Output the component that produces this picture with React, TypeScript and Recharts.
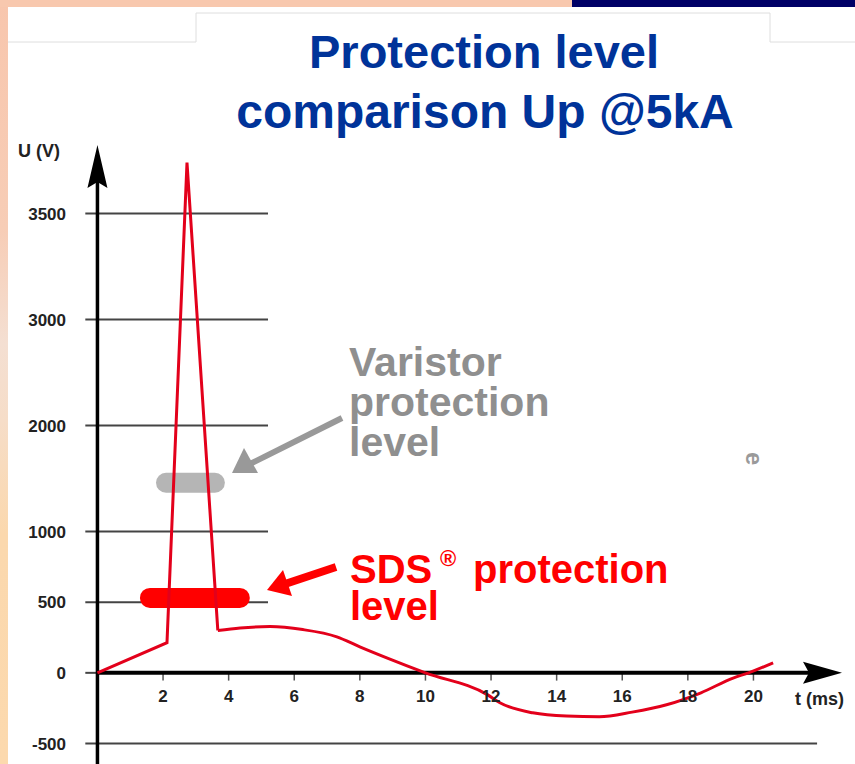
import { LineChart, Line, XAxis, YAxis, ReferenceLine, ReferenceDot } from "recharts";

// y axis of the original is not linear: each gridline value sits on a "slot"
const yTickVolts = [-500, 0, 500, 1000, 2000, 3000, 3500];
const yTickSlots = [-1, 0, 1, 2, 3.5, 5, 6.5];
const xTicks = [2, 4, 6, 8, 10, 12, 14, 16, 18, 20];

// surge: ramp, spike, drop
const spikeT = [0, 2.12, 2.73, 3.67];
const spikeU = [0, 213, 3740, 300];

// mains wave after the surge
const waveT = [3.67, 4.35, 5.26, 6.26, 7.3, 8.0, 8.82, 10.0, 11.9, 12.27, 13.27, 14.3, 15.3, 16.3, 17.35, 18.4, 19.4, 19.85, 20.6];
const waveU = [300, 318, 327, 306, 255, 184, 106, 0, -156, -212, -283, -306, -311, -278, -226, -141, -35, 0, 71];

// protection levels (V) and the time span of the marker bars (ms)
const varistorLevel = 1460;
const varistorSpan = [2.09, 3.58];
const sdsLevel = 530;
const sdsSpan = [1.6, 4.34];

const FONT = "'Liberation Sans', Arial, Helvetica, sans-serif";

function toSlot(v: number): number {
  let i = 0;
  while (i < yTickVolts.length - 2 && v > yTickVolts[i + 1]) i++;
  const v0 = yTickVolts[i];
  const v1 = yTickVolts[i + 1];
  const s0 = yTickSlots[i];
  const s1 = yTickSlots[i + 1];
  return s0 + ((v - v0) / (v1 - v0)) * (s1 - s0);
}

const spikeData = spikeT.map((t, i) => ({ t, u: toSlot(spikeU[i]) }));
const waveData = waveT.map((t, i) => ({ t, u: toSlot(waveU[i]) }));

function fmtSlot(s: number): string {
  const i = yTickSlots.indexOf(s);
  return i >= 0 ? String(yTickVolts[i]) : "";
}

const X_MIN = -0.41;
const X_MAX = 22.7;
const Y_MIN = -1.29;
const Y_MAX = 7.54;

function UpArrow(p: any) {
  const { cx, cy } = p;
  return (
    <polygon
      points={`${cx},${cy} ${cx + 10},${cy + 43} ${cx},${cy + 37} ${cx - 10},${cy + 43}`}
      fill="#000"
    />
  );
}

function RightArrow(p: any) {
  const { cx, cy } = p;
  return (
    <polygon
      points={`${cx},${cy} ${cx - 39},${cy - 11} ${cx - 33},${cy} ${cx - 39},${cy + 11}`}
      fill="#000"
    />
  );
}

export default function App() {
  return (
    <div
      style={{
        position: "absolute",
        left: 0,
        top: 0,
        width: 855,
        height: 764,
        overflow: "hidden",
        background: "#fff",
        fontFamily: FONT,
      }}
    >
      {/* slide background edges */}
      <div
        style={{
          position: "absolute",
          left: 0,
          top: 0,
          width: 8,
          height: 764,
          background: "linear-gradient(#f8c6ad 0%, #f7cdb6 30%, #f4dfd2 45%, #f6ddc8 55%, #fbd8ad 70%, #fcd9ad 100%)",
        }}
      />
      <div style={{ position: "absolute", left: 0, top: 0, width: 572, height: 7, background: "#f8c8ae" }} />
      <div style={{ position: "absolute", left: 572, top: 0, width: 283, height: 7, background: "#000066" }} />

      <div style={{ position: "absolute", left: 0, top: 0 }}>
        <LineChart width={855} height={764} margin={{ top: 140, right: 13, bottom: 0, left: 0 }}>
          <XAxis type="number" dataKey="t" domain={[X_MIN, X_MAX]} allowDataOverflow hide />
          <YAxis
            type="number"
            domain={[Y_MIN, Y_MAX]}
            allowDataOverflow
            ticks={yTickSlots}
            tickFormatter={fmtSlot}
            width={84}
            axisLine={false}
            tickLine={false}
            tickSize={0}
            tickMargin={18}
            tick={{ fontSize: 17, fill: "#222", fontFamily: FONT, fontWeight: "bold" }}
          />

          {/* gridlines */}
          {yTickSlots.map((s) => (
            <ReferenceLine
              key={`g${s}`}
              segment={[
                { x: -0.37, y: s },
                { x: s === -1 ? 21.94 : s === 0 ? 0 : 5.2, y: s },
              ]}
              stroke="#444"
              strokeWidth={2}
            />
          ))}

          {/* x ticks with labels */}
          {xTicks.map((t) => (
            <ReferenceLine
              key={`x${t}`}
              segment={[
                { x: t, y: 0 },
                { x: t, y: -0.11 },
              ]}
              stroke="#555"
              strokeWidth={1.5}
              label={{ value: String(t), position: "bottom", offset: 9, fill: "#222", fontSize: 17, fontWeight: "bold" }}
            />
          ))}

          {/* protection level bars */}
          <ReferenceLine
            segment={[
              { x: varistorSpan[0], y: toSlot(varistorLevel) },
              { x: varistorSpan[1], y: toSlot(varistorLevel) },
            ]}
            stroke="#b5b5b5"
            strokeWidth={20}
            strokeLinecap="round"
          />
          <ReferenceLine
            segment={[
              { x: sdsSpan[0], y: toSlot(sdsLevel) },
              { x: sdsSpan[1], y: toSlot(sdsLevel) },
            ]}
            stroke="#ff0000"
            strokeWidth={20}
            strokeLinecap="round"
          />

          {/* axes */}
          <ReferenceLine
            segment={[
              { x: 0, y: Y_MIN },
              { x: 0, y: 6.95 },
            ]}
            stroke="#000"
            strokeWidth={3.5}
          />
          <ReferenceLine
            segment={[
              { x: 0, y: 0 },
              { x: 21.8, y: 0 },
            ]}
            stroke="#000"
            strokeWidth={4}
          />
          <ReferenceDot x={0} y={7.47} r={1} shape={UpArrow} />
          <ReferenceDot x={X_MAX} y={0} r={1} shape={RightArrow} />

          <Line
            data={spikeData}
            dataKey="u"
            type="linear"
            stroke="#e3001b"
            strokeWidth={3}
            dot={false}
            isAnimationActive={false}
          />
          <Line
            data={waveData}
            dataKey="u"
            type="monotone"
            stroke="#e3001b"
            strokeWidth={3}
            dot={false}
            isAnimationActive={false}
          />
        </LineChart>
      </div>

      {/* slide title, annotations */}
      <svg
        width={855}
        height={764}
        style={{ position: "absolute", left: 0, top: 0, pointerEvents: "none" }}
        fontFamily={FONT}
      >
        <polyline points="8,42 196,42 196,13 770,13 770,42 855,42" fill="none" stroke="#dedede" strokeWidth={1} />
        <text textAnchor="middle" fontWeight="bold" fill="#003399">
          <tspan x={484} y={68} fontSize={47}>
            Protection level
          </tspan>
          <tspan x={485} y={128} fontSize={48}>
            comparison Up @5kA
          </tspan>
        </text>

        <text x={18} y={157} fontSize={18} fontWeight="bold" fill="#222">
          U (V)
        </text>
        <text x={795} y={705} fontSize={18} fontWeight="bold" fill="#222">
          t (ms)
        </text>

        <text fontSize={41} fontWeight="bold" fill="#8f8f8f">
          <tspan x={349} y={376}>
            Varistor
          </tspan>
          <tspan x={349} y={416}>
            protection
          </tspan>
          <tspan x={349} y={456}>
            level
          </tspan>
        </text>
        <text x={746} y={452} fontSize={24} fontWeight="bold" fill="#9a9a9a" transform="rotate(90 746 452)">
          e
        </text>
        <line x1={342} y1={418} x2={248} y2={465} stroke="#999" strokeWidth={6} />
        <polygon points="232,473 244,448 258,473" fill="#999" />

        <text fontWeight="bold" fill="#ff0000" fontSize={40}>
          <tspan x={350} y={583}>
            SDS
          </tspan>
          <tspan x={440} y={566} fontSize={22}>
            ®
          </tspan>
          <tspan x={473} y={583}>
            protection
          </tspan>
          <tspan x={350} y={620}>
            level
          </tspan>
        </text>
        <line x1={336} y1={567} x2={285} y2={584} stroke="#ff0000" strokeWidth={8} />
        <polygon points="267,590 283,570 292,596" fill="#ff0000" />
      </svg>
    </div>
  );
}
